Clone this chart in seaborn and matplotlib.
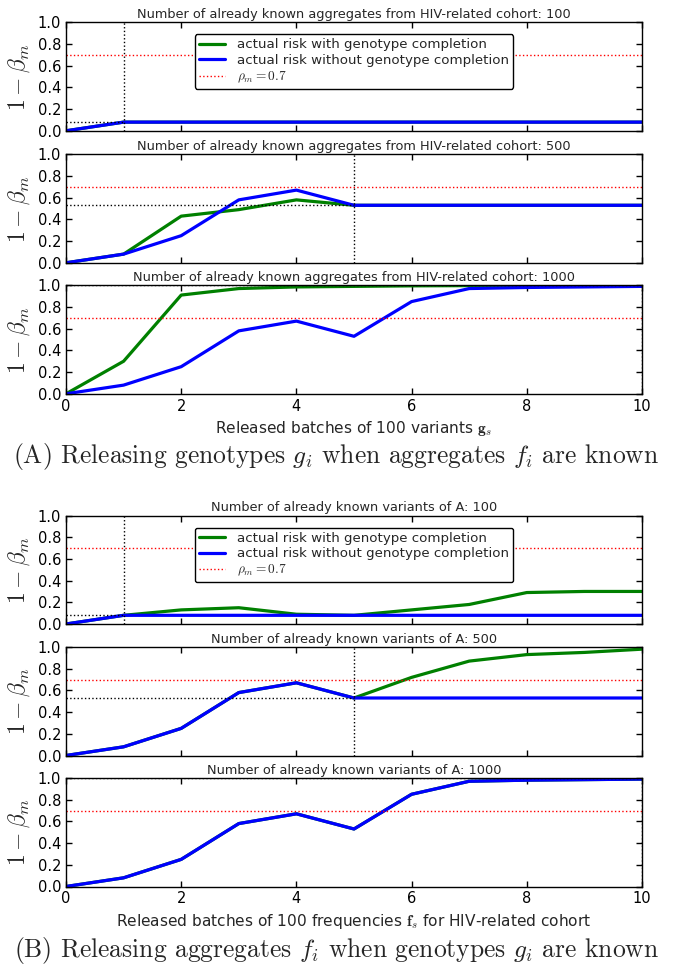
import numpy as np
import pandas as pd
import matplotlib
matplotlib.use('Agg')
import matplotlib.pyplot as plt
from matplotlib.lines import Line2D
import seaborn as sns

# released batches (x axis)
batches = list(range(11))

# (A) releasing genotypes when aggregates are known
a_titles = ['Number of already known aggregates from HIV-related cohort: 100',
            'Number of already known aggregates from HIV-related cohort: 500',
            'Number of already known aggregates from HIV-related cohort: 1000']
a100_with = [0, 0.08, 0.08, 0.08, 0.08, 0.08, 0.08, 0.08, 0.08, 0.08, 0.08]
a100_without = [0, 0.08, 0.08, 0.08, 0.08, 0.08, 0.08, 0.08, 0.08, 0.08, 0.08]
a500_with = [0, 0.08, 0.43, 0.49, 0.58, 0.53, 0.53, 0.53, 0.53, 0.53, 0.53]
a500_without = [0, 0.08, 0.25, 0.58, 0.67, 0.53, 0.53, 0.53, 0.53, 0.53, 0.53]
a1000_with = [0, 0.30, 0.91, 0.97, 0.985, 0.99, 0.995, 0.997, 0.998, 0.999, 1.0]
a1000_without = [0, 0.08, 0.25, 0.58, 0.67, 0.53, 0.85, 0.97, 0.98, 0.985, 0.99]

# (B) releasing aggregates when genotypes are known
b_titles = ['Number of already known variants of A: 100',
            'Number of already known variants of A: 500',
            'Number of already known variants of A: 1000']
b100_with = [0, 0.08, 0.13, 0.15, 0.09, 0.08, 0.13, 0.18, 0.29, 0.30, 0.30]
b100_without = [0, 0.08, 0.08, 0.08, 0.08, 0.08, 0.08, 0.08, 0.08, 0.08, 0.08]
b500_with = [0, 0.08, 0.25, 0.58, 0.67, 0.53, 0.72, 0.87, 0.93, 0.95, 0.98]
b500_without = [0, 0.08, 0.25, 0.58, 0.67, 0.53, 0.53, 0.53, 0.53, 0.53, 0.53]
b1000_with = [0, 0.08, 0.25, 0.58, 0.67, 0.53, 0.85, 0.97, 0.98, 0.985, 0.99]
b1000_without = [0, 0.08, 0.25, 0.58, 0.67, 0.53, 0.85, 0.97, 0.98, 0.985, 0.99]

# point where the risk stops growing (black dotted guides)
a_stop_x = [1, 5, 10]
a_stop_y = [0.08, 0.53, 1.0]
b_stop_x = [1, 5, 10]
b_stop_y = [0.08, 0.53, 1.0]

rho = 0.7
lab_with = 'actual risk with genotype completion'
lab_without = 'actual risk without genotype completion'
lab_rho = r'$\rho_m = 0.7$'

sns.set_style('ticks')
plt.rcParams['font.family'] = ['DejaVu Sans']
plt.rcParams['mathtext.fontset'] = 'cm'
plt.rcParams['xtick.direction'] = 'in'
plt.rcParams['ytick.direction'] = 'in'
plt.rcParams['xtick.top'] = True
plt.rcParams['ytick.right'] = True
plt.rcParams['axes.edgecolor'] = 'black'
plt.rcParams['axes.linewidth'] = 1.0

fig = plt.figure(figsize=(6.73, 9.65), dpi=100)
W, H = 673.0, 965.0
left = 66 / W
width = 576 / W
height = 108.5 / H
a_tops = [22.3, 154.3, 285.3]
b_tops = [515.5, 647, 778]


def panel(top, title, with_vals, without_vals, sx, sy, show_legend, show_xlabels, xlabel):
    ax = fig.add_axes([left, 1 - (top + 108.5) / H, width, height])
    df = pd.DataFrame({'batch': batches * 2,
                       'risk': with_vals + without_vals,
                       'series': [lab_with] * 11 + [lab_without] * 11})
    sns.lineplot(data=df, x='batch', y='risk', hue='series',
                 palette={lab_with: (0, 0.5, 0), lab_without: (0, 0, 1)},
                 linewidth=2.3, ax=ax, legend=False)
    ax.axhline(rho, color='red', linestyle=':', linewidth=1)
    ax.axvline(sx, color='black', linestyle=':', linewidth=1)
    ax.hlines(sy, 0, sx, color='black', linestyle=':', linewidth=1)
    ax.set_xlim(0, 10)
    ax.set_ylim(0, 1)
    ax.set_xticks([0, 2, 4, 6, 8, 10])
    ax.set_yticks([0, 0.2, 0.4, 0.6, 0.8, 1.0])
    ax.set_yticklabels(['0.0', '0.2', '0.4', '0.6', '0.8', '1.0'])
    ax.tick_params(labelsize=10.5, length=4, width=1, colors='black')
    ax.set_title(title, fontsize=9.3, pad=3)
    ax.set_ylabel(r'$1-\beta_m$', fontsize=17, labelpad=4)
    if show_xlabels:
        ax.set_xlabel(xlabel, fontsize=11.1, labelpad=4)
    else:
        ax.set_xticklabels([])
        ax.set_xlabel('')
    if show_legend:
        handles = [Line2D([], [], color=(0, 0.5, 0), linewidth=2.3),
                   Line2D([], [], color=(0, 0, 1), linewidth=2.3),
                   Line2D([], [], color='red', linestyle=':', linewidth=1)]
        leg = ax.legend(handles, [lab_with, lab_without, lab_rho],
                        loc='upper center', bbox_to_anchor=(0.5, 0.925),
                        fontsize=9.6, frameon=True, fancybox=True,
                        handlelength=2, borderpad=0.3, labelspacing=0.2,
                        handletextpad=0.9, borderaxespad=0.3)
        leg.get_frame().set_edgecolor('black')
        leg.get_frame().set_alpha(1)
    return ax


a_with = [a100_with, a500_with, a1000_with]
a_without = [a100_without, a500_without, a1000_without]
b_with = [b100_with, b500_with, b1000_with]
b_without = [b100_without, b500_without, b1000_without]

for i in range(3):
    panel(a_tops[i], a_titles[i], a_with[i], a_without[i], a_stop_x[i], a_stop_y[i],
          i == 0, i == 2, r'Released batches of 100 variants $\mathbf{g}_s$')
    panel(b_tops[i], b_titles[i], b_with[i], b_without[i], b_stop_x[i], b_stop_y[i],
          i == 0, i == 2, r'Released batches of 100 frequencies $\mathbf{f}_s$ for HIV-related cohort')

fig.text(0.5, 1 - 457 / H, r'(A) Releasing genotypes $g_i$ when aggregates $f_i$ are known',
         ha='center', va='center', fontsize=18.4, family='cmr10')
fig.text(0.5, 1 - 950 / H, r'(B) Releasing aggregates $f_i$ when genotypes $g_i$ are known',
         ha='center', va='center', fontsize=18.4, family='cmr10')

fig.savefig('out.png', dpi=100)
